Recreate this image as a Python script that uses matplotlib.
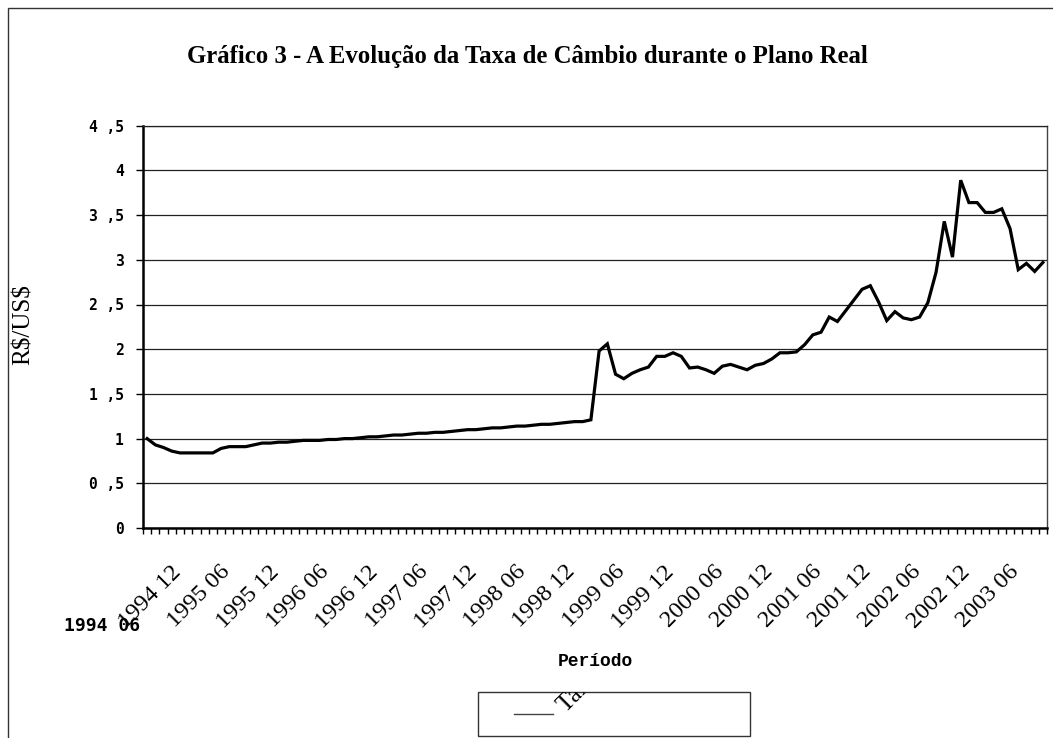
import matplotlib.pyplot as plt
import numpy as np
from matplotlib.patches import Rectangle
from matplotlib.lines import Line2D
from matplotlib.ticker import FuncFormatter, FixedLocator
from matplotlib.transforms import ScaledTranslation

# taxa de cambio R$/US$, fim de mes, 1994 06 .. 2003 07
rate_1994 = [1.00, 0.93, 0.90, 0.86, 0.84, 0.84, 0.84]
rate_1995 = [0.84, 0.84, 0.89, 0.91, 0.91, 0.91, 0.93, 0.95, 0.95, 0.96, 0.96, 0.97]
rate_1996 = [0.98, 0.98, 0.98, 0.99, 0.99, 1.00, 1.00, 1.01, 1.02, 1.02, 1.03, 1.04]
rate_1997 = [1.04, 1.05, 1.06, 1.06, 1.07, 1.07, 1.08, 1.09, 1.10, 1.10, 1.11, 1.12]
rate_1998 = [1.12, 1.13, 1.14, 1.14, 1.15, 1.16, 1.16, 1.17, 1.18, 1.19, 1.19, 1.21]
rate_1999 = [1.98, 2.06, 1.72, 1.67, 1.73, 1.77, 1.80, 1.92, 1.92, 1.96, 1.92, 1.79]
rate_2000 = [1.80, 1.77, 1.73, 1.81, 1.83, 1.80, 1.77, 1.82, 1.84, 1.89, 1.96, 1.96]
rate_2001 = [1.97, 2.05, 2.16, 2.19, 2.36, 2.31, 2.43, 2.55, 2.67, 2.71, 2.53, 2.32]
rate_2002 = [2.42, 2.35, 2.33, 2.36, 2.52, 2.86, 3.43, 3.03, 3.89, 3.64, 3.64, 3.53]
rate_2003 = [3.53, 3.57, 3.35, 2.89, 2.96, 2.87, 2.97]

rates = (rate_1994 + rate_1995 + rate_1996 + rate_1997 + rate_1998 +
         rate_1999 + rate_2000 + rate_2001 + rate_2002 + rate_2003)

# month labels
periods = []
for y in range(1994, 2004):
    for m in range(1, 13):
        if (y == 1994 and m < 6) or (y == 2003 and m > 7):
            continue
        periods.append(f"{y} {m:02d}")

x = np.arange(len(rates))

fig = plt.figure(figsize=(10.53, 7.38), dpi=100)
W, H = 1053, 738
ax = fig.add_axes([143 / W, 1 - 528 / H, 904 / W, 402.3 / H])

ax.plot(x, rates, color='black', lw=2.3, solid_joinstyle='miter', label='Taxa de Câmbio')

ax.set_xlim(-0.5, len(rates) - 0.5)
ax.set_ylim(0, 4.5)
ax.set_yticks(np.arange(0, 4.51, 0.5))
ax.yaxis.set_major_formatter(FuncFormatter(lambda v, _: f"{v:g}".replace('.', ' ,')))
ax.yaxis.grid(True, color='#222222', lw=0.9)
ax.set_axisbelow(True)

for lbl in ax.get_yticklabels():
    lbl.set_fontfamily('DejaVu Sans Mono')
    lbl.set_fontweight('bold')
    lbl.set_fontsize(10.5)
ax.tick_params(axis='y', direction='out', length=5, width=1, pad=9, colors='black')

# ticks between categories, labels every 6 months
ax.xaxis.set_minor_locator(FixedLocator(np.arange(-0.5, len(rates), 1)))
label_idx = list(range(0, len(rates), 6))
ax.set_xticks(label_idx)
ax.set_xticklabels([''] + [periods[i] for i in label_idx[1:]],
                   rotation=45, ha='right', va='top', rotation_mode='anchor',
                   fontfamily='Liberation Serif', fontsize=17.5)
ax.tick_params(axis='x', which='major', length=0, pad=24)
ax.tick_params(axis='x', which='minor', direction='out', length=4.5, width=1, color='black')
shift = ScaledTranslation(-26 / 100, 0, fig.dpi_scale_trans)
for lbl in ax.get_xticklabels():
    lbl.set_transform(lbl.get_transform() + shift)

for side in ['left', 'bottom']:
    ax.spines[side].set_color('black')
    ax.spines[side].set_linewidth(1.8)
ax.spines['top'].set_color('#222222')
ax.spines['top'].set_linewidth(0.9)
ax.spines['right'].set_color('#444444')
ax.spines['right'].set_linewidth(1)

ax.set_ylabel(r'R\$/US\$', fontfamily='Liberation Serif', fontsize=18)
ax.yaxis.set_label_coords(-0.1195, 0.505)
ax.set_xlabel('Período', fontfamily='Liberation Mono', fontweight='bold', fontsize=13)
ax.xaxis.set_label_coords(0.5, -0.31)

fig.text(140 / W, 1 - 626 / H, periods[0], ha='right', va='center',
         fontfamily='DejaVu Sans Mono', fontweight='bold', fontsize=13)

fig.text(0.5005, 1 - 63 / H, 'Gráfico 3 - A Evolução da Taxa de Câmbio durante o Plano Real',
         ha='center', va='baseline', fontfamily='Liberation Serif', fontweight='bold', fontsize=17.8)

# legend box (as drawn in the original, text clipped)
box = Rectangle((478 / W, 1 - 736 / H), 272 / W, 44 / H, transform=fig.transFigure,
                fill=False, edgecolor='#333333', lw=1)
fig.patches.append(box)
fig.lines.append(Line2D([514 / W, 553 / W], [1 - 714 / H, 1 - 714 / H],
                        transform=fig.transFigure, color='#444444', lw=1))
leg_txt = fig.text(566 / W, 1 - 713 / H, 'Taxa de Câmbio', rotation=45, rotation_mode='anchor',
                   ha='left', va='baseline', fontfamily='Liberation Serif', fontsize=18)
leg_txt.set_clip_path(box)

# chart area frame
fig.patches.append(Rectangle((8 / W, -0.1), 1.2, 1 - 8 / H + 0.1, transform=fig.transFigure,
                             fill=False, edgecolor='#333333', lw=1))

fig.savefig('out.png', dpi=100)
